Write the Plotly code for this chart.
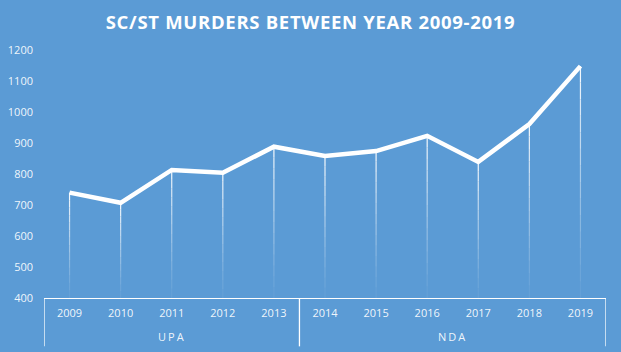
import plotly.graph_objects as go

years = ["2009", "2010", "2011", "2012", "2013", "2014", "2015", "2016", "2017", "2018", "2019"]
govt = ["UPA"] * 5 + ["NDA"] * 6
murders = [740, 707, 813, 804, 888, 858, 874, 923, 839, 961, 1148]
y_ticks = [400, 500, 600, 700, 800, 900, 1000, 1100, 1200]

BG = "#5B9BD5"
TXT = "rgba(255,255,255,0.92)"
base = y_ticks[0]

fig = go.Figure()

# fading drop lines: split each drop into segments with increasing opacity toward the point
nseg = 14
for k in range(nseg):
    f0 = k / nseg
    f1 = (k + 1) / nseg
    op = 0.04 + 0.93 * ((k + 0.5) / nseg) ** 1.2
    lo = [base + (v - base) * f0 for v in murders]
    hi = [base + (v - base) * f1 for v in murders]
    fig.add_trace(go.Scatter(
        x=years, y=hi, mode="markers",
        marker=dict(size=0.1, color="rgba(0,0,0,0)"),
        error_y=dict(type="data", symmetric=False,
                     array=[0] * len(murders),
                     arrayminus=[h - l for h, l in zip(hi, lo)],
                     width=0, thickness=1.2,
                     color=f"rgba(255,255,255,{op:.3f})"),
        hoverinfo="skip", showlegend=False))

fig.add_trace(go.Scatter(
    x=years, y=murders, mode="lines",
    line=dict(color="white", width=4.5),
    showlegend=False))

# group boxes (UPA / NDA) below the category axis
groups = []
for i, g in enumerate(govt):
    if not groups or groups[-1][0] != g:
        groups.append([g, i, i])
    else:
        groups[-1][2] = i

box_bottom = -0.195
bounds = sorted({grp[1] - 0.5 for grp in groups} | {grp[2] + 0.5 for grp in groups})
for b in bounds:
    fig.add_shape(type="line", xref="x", yref="paper", x0=b, x1=b, y0=0, y1=box_bottom,
                  line=dict(color="white", width=1.3))
for name, i0, i1 in groups:
    fig.add_annotation(xref="x", yref="paper", x=(i0 + i1) / 2, y=-0.157,
                       text=name, showarrow=False, yanchor="middle",
                       font=dict(family="Open Sans", size=11, color=TXT))

fig.update_layout(
    width=621, height=352,
    paper_bgcolor=BG, plot_bgcolor=BG,
    margin=dict(l=44, r=15, t=50, b=54),
    title=dict(text="<b>SC/ST MURDERS BETWEEN YEAR 2009-2019</b>",
               x=0.5, xanchor="center", y=0.935, yanchor="middle",
               font=dict(family="Open Sans", size=18.5, color="white")),
    font=dict(family="Open Sans", color=TXT, size=11),
    xaxis=dict(type="category", range=[-0.5, len(years) - 0.5], automargin=False,
               showline=True, linecolor="white", linewidth=1.3,
               showgrid=False, zeroline=False, ticks="", ticklabelstandoff=5,
               tickfont=dict(size=11, color=TXT)),
    yaxis=dict(range=[400, 1200], tickvals=y_ticks, showgrid=False, zeroline=False,
               automargin=False, showline=False, ticks="", ticklabelstandoff=10,
               tickfont=dict(size=11, color=TXT)),
)

post = ("var s=document.createElement('style');"
        "s.textContent='.gtitle{letter-spacing:0.7px} .annotation-text{letter-spacing:2px}';"
        "document.head.appendChild(s);")
fig.write_html("out.html", post_script=post)
